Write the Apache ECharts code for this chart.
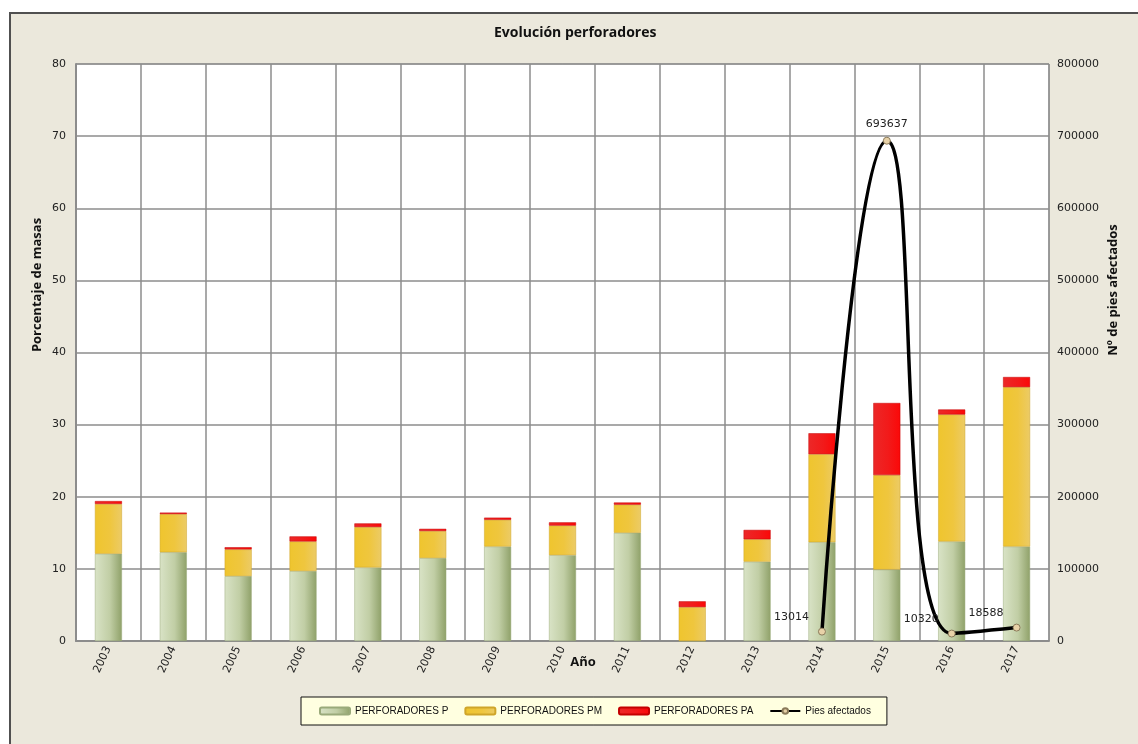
<!DOCTYPE html>
<html>
<head>
<meta charset="utf-8">
<title>Evolución perforadores</title>
<script src="https://cdn.jsdelivr.net/npm/echarts@6/dist/echarts.min.js"></script>
<style>
  html, body { margin: 0; padding: 0; background: #fff; }
  #main { width: 1138px; height: 744px; }
</style>
</head>
<body>
<div id="main"></div>
<script>
// datos
var years = ['2003','2004','2005','2006','2007','2008','2009','2010','2011','2012','2013','2014','2015','2016','2017'];
var perfP  = [12.1, 12.3, 9.0, 9.7, 10.2, 11.5, 13.1, 11.9, 15.0, 0, 11.0, 13.7, 9.9, 13.8, 13.1];
var perfPM = [6.9, 5.3, 3.7, 4.1, 5.6, 3.75, 3.7, 4.1, 3.9, 4.7, 3.1, 12.2, 13.1, 17.6, 22.1];
var perfPA = [0.4, 0.2, 0.3, 0.7, 0.5, 0.3, 0.3, 0.45, 0.3, 0.8, 1.3, 2.9, 10.0, 0.7, 1.4];
var pies   = [null, null, null, null, null, null, null, null, null, null, null, 13014, 693637, 10320, 18588];

var chart = echarts.init(document.getElementById('main'));

var font = 'Liberation Sans';

function grad(c1, c2, c3) {
  return new echarts.graphic.LinearGradient(0, 0, 1, 0, [
    { offset: 0, color: c1 },
    { offset: 0.55, color: c2 },
    { offset: 1, color: c3 }
  ]);
}

// etiquetas de la linea: arriba para el pico, a la izquierda para el resto
var piesData = pies.map(function (v, i) {
  if (v === null) return null;
  var lbl = v > 100000
    ? { position: 'top', offset: [0, -2] }
    : { position: 'left', offset: [-4, -14] };
  return { value: v, label: lbl };
});

var option = {
  backgroundColor: '#fff',
  animation: false,
  textStyle: { fontFamily: font },
  graphic: [
    {
      type: 'rect', z: -10, silent: true,
      shape: { x: 10, y: 13, width: 1140, height: 740 },
      style: { fill: '#EBE8DC', stroke: '#505050', lineWidth: 2 }
    },
    {
      type: 'text', left: 494, top: 26,
      style: { text: 'Evolución perforadores', font: 'bold 14px "Open Sans"', fill: '#111' }
    },
    {
      type: 'text', x: 37, y: 285, rotation: Math.PI / 2,
      style: { text: 'Porcentaje de masas', font: 'bold 13px "Open Sans"', fill: '#111', align: 'center', verticalAlign: 'middle' }
    },
    {
      type: 'text', x: 1113, y: 290, rotation: Math.PI / 2,
      style: { text: 'Nº de pies afectados', font: 'bold 13px "Open Sans"', fill: '#111', align: 'center', verticalAlign: 'middle' }
    },
    {
      type: 'text', x: 583, y: 662,
      style: { text: 'Año', font: 'bold 13px "Open Sans"', fill: '#111', align: 'center', verticalAlign: 'middle' }
    }
  ],
  legend: {
    left: 301,
    top: 697,
    padding: [9, 16, 9, 18],
    backgroundColor: '#FFFFE0',
    borderColor: '#111',
    borderWidth: 1,
    itemWidth: 30,
    itemHeight: 7,
    itemGap: 16,
    textStyle: { fontSize: 10, color: '#111', fontFamily: font },
    data: ['PERFORADORES P', 'PERFORADORES PM', 'PERFORADORES PA', 'Pies afectados']
  },
  grid: {
    left: 76,
    right: 89,
    top: 64,
    bottom: 103,
    show: true,
    backgroundColor: '#fff',
    borderColor: '#8c8c8c',
    borderWidth: 1
  },
  xAxis: [
    {
      type: 'category',
      data: years,
      boundaryGap: true,
      axisLine: { lineStyle: { color: '#8c8c8c', width: 2 } },
      axisTick: { show: false },
      axisLabel: { rotate: 65, color: '#222', fontSize: 11, fontFamily: 'DejaVu Sans', margin: 6 },
      splitLine: { show: true, lineStyle: { color: '#8c8c8c', width: 1.5 } }
    }
  ],
  yAxis: [
    {
      type: 'value',
      min: 0,
      max: 80,
      interval: 10,
      axisLine: { show: true, lineStyle: { color: '#8c8c8c', width: 2 } },
      axisTick: { show: false },
      axisLabel: { color: '#222', fontSize: 11, fontFamily: 'DejaVu Sans', margin: 10 },
      splitLine: { show: true, lineStyle: { color: '#8c8c8c', width: 1.5 } }
    },
    {
      type: 'value',
      min: 0,
      max: 800000,
      interval: 100000,
      axisLine: { show: false },
      axisTick: { show: false },
      axisLabel: {
        color: '#222', fontSize: 11, fontFamily: 'DejaVu Sans', margin: 8,
        formatter: function (v) { return String(v); }
      },
      splitLine: { show: false }
    }
  ],
  series: [
    {
      name: 'PERFORADORES P',
      type: 'bar',
      stack: 'total',
      barWidth: 27,
      data: perfP,
      itemStyle: {
        color: grad('#d9e3c6', '#c1cea5', '#8fa169'),
        borderColor: '#9aaa7a',
        borderWidth: 0.5
      }
    },
    {
      name: 'PERFORADORES PM',
      type: 'bar',
      stack: 'total',
      barWidth: 27,
      data: perfPM,
      itemStyle: {
        color: grad('#efc52e', '#efc63e', '#eccb66'),
        borderColor: '#cfa52a',
        borderWidth: 0.5
      }
    },
    {
      name: 'PERFORADORES PA',
      type: 'bar',
      stack: 'total',
      barWidth: 27,
      data: perfPA,
      itemStyle: {
        color: grad('#ec2828', '#f21a1a', '#fb0808'),
        borderColor: '#c40000',
        borderWidth: 0.5
      }
    },
    {
      name: 'Pies afectados',
      type: 'line',
      yAxisIndex: 1,
      smooth: 0.5,
      connectNulls: false,
      data: piesData,
      symbol: 'circle',
      symbolSize: 7,
      lineStyle: { color: '#000', width: 3.5 },
      itemStyle: { color: '#e8d2a8', borderColor: '#8a7a5a', borderWidth: 1 },
      label: {
        show: true,
        color: '#222',
        fontSize: 11,
        fontFamily: 'DejaVu Sans'
      },
      z: 5
    }
  ]
};

chart.setOption(option);
</script>
</body>
</html>
